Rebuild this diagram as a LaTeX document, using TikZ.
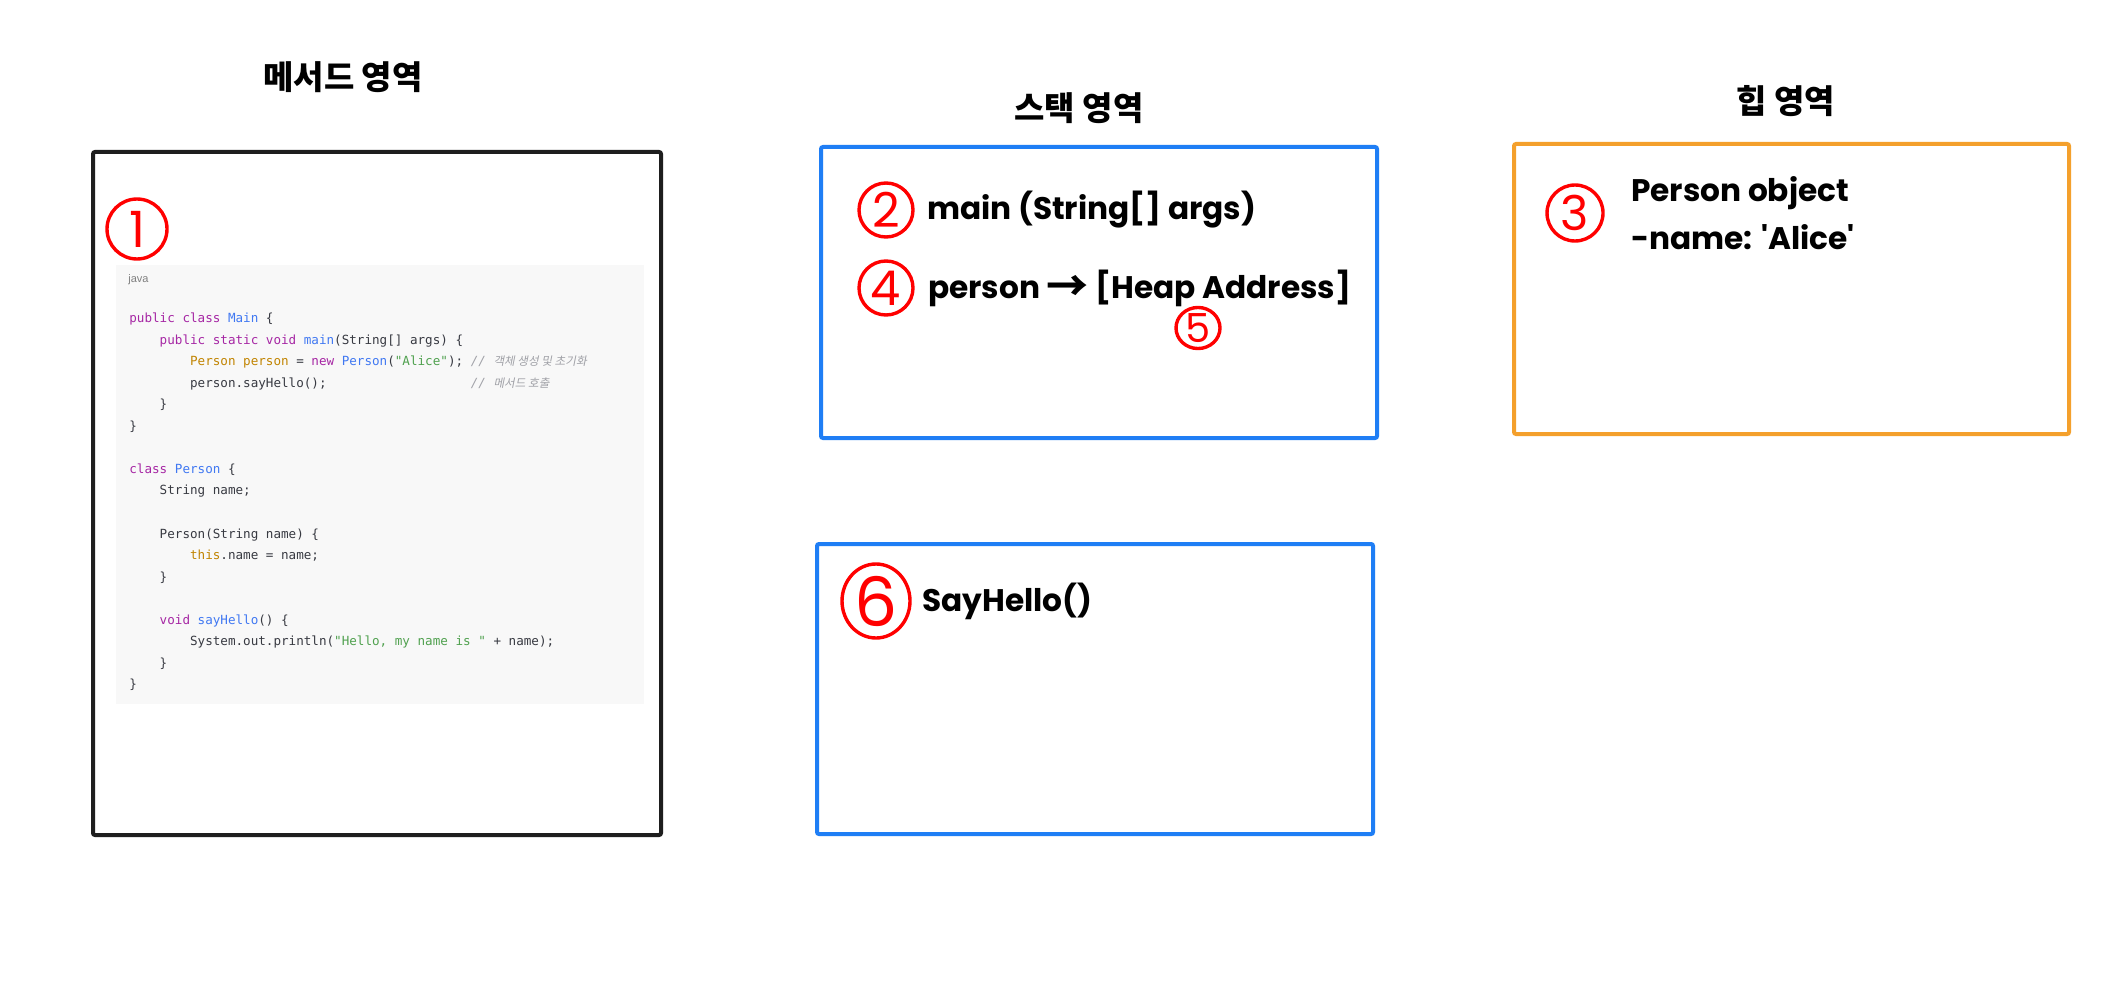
\documentclass[tikz,border=0pt]{standalone}
\usepackage{fontspec}
\setmainfont{Poppins}
\newfontfamily\kr{Noto Sans CJK KR}
\newfontfamily\krslant[FakeSlant=0.2]{Noto Sans CJK KR}
\newfontfamily\codefont{DejaVu Sans Mono}
\newfontfamily\javafont{Liberation Sans}
\usetikzlibrary{positioning,shapes.geometric}
\definecolor{numred}{HTML}{FF0000}
\definecolor{stackblue}{HTML}{1F7EF5}
\definecolor{heaporange}{HTML}{F4A02C}
\definecolor{methodblack}{HTML}{1E1E1E}
\definecolor{codebg}{HTML}{F8F8F8}
\definecolor{codetxt}{HTML}{383A42}
\definecolor{codekw}{HTML}{A626A4}
\definecolor{codefn}{HTML}{4078F2}
\definecolor{codestr}{HTML}{50A14F}
\definecolor{codety}{HTML}{C18401}
\definecolor{codecm}{HTML}{A0A1A7}
\newcommand\ckw[1]{\textcolor{codekw}{#1}}
\newcommand\cfn[1]{\textcolor{codefn}{#1}}
\newcommand\cstr[1]{\textcolor{codestr}{#1}}
\newcommand\cty[1]{\textcolor{codety}{#1}}
\newcommand\ccm[1]{\textcolor{codecm}{\itshape #1}}
\newcommand\krcm[1]{{\krslant\fontsize{5.8}{8}\selectfont #1}}
\newcommand\pad[1]{\hspace*{#1\fontcharwd\font`0}}
\newcommand\numsize[1]{\fontsize{#1}{#1}\selectfont}
\tikzset{
  area/.style={draw=#1,line width=2pt,rounded corners=1pt,inner sep=0pt},
  codepanel/.style={fill=codebg,inner sep=0pt},
  codeline/.style={anchor=base west,inner sep=0pt,text=codetxt,
                   font=\codefont\fontsize{6.3}{8}\selectfont},
  areatitle/.style={font=\kr\bfseries\fontsize{16.5}{20}\selectfont,inner sep=0pt},
  lbl/.style={inner sep=0pt,font=\bfseries\fontsize{15.6}{19}\selectfont},
  numcirc/.style={circle,draw=numred,line width=1.7pt,text=numred,
                  inner sep=0pt,minimum size=#1},
  numoval/.style={ellipse,draw=numred,line width=1.7pt,text=numred,inner sep=0pt},
}
\begin{document}
\begin{tikzpicture}[x=0.5pt,y=-0.5pt]
  \fill[white] (0,0) rectangle (2112,1000);
  \useasboundingbox (0,0) rectangle (2112,1000);

  % method area
  \node[areatitle] (methodtitle) at (343,77) {메서드 영역};
  \node[area=methodblack,minimum width=284pt,minimum height=341.5pt] (methodarea) at (377,493.5) {};
  \node[codepanel,minimum width=264pt,minimum height=219.5pt] (codeblock) at (380,484.5) {};
  \node[anchor=base west,inner sep=0pt,text=black!50,font=\javafont\fontsize{5.5}{6}\selectfont] (javatag) at (128,282) {java};
  \foreach \codetext [count=\i from 0] in {
      {\ckw{public} \ckw{class} \cfn{Main} \{},
      {\pad{4}\ckw{public} \ckw{static} \ckw{void} \cfn{main}(String[] args) \{},
      {\pad{8}\cty{Person} \cty{person} = \ckw{new} \cfn{Person}(\cstr{"Alice"}); \ccm{// \krcm{객체 생성 및 초기화}}},
      {\pad{8}person.sayHello();\pad{19}\ccm{// \krcm{메서드 호출}}},
      {\pad{4}\}},
      {\}},
      {},
      {\ckw{class} \cfn{Person} \{},
      {\pad{4}String name;},
      {},
      {\pad{4}Person(String name) \{},
      {\pad{8}\cty{this}.name = name;},
      {\pad{4}\}},
      {},
      {\pad{4}\ckw{void} \cfn{sayHello}() \{},
      {\pad{8}System.out.println(\cstr{"Hello, my name is "} + name);},
      {\pad{4}\}},
      {\}}}
    \node[codeline] (code\i) at (129,{322.5+21.55*\i}) {\codetext};
  \node[numcirc=30pt,font=\numsize{25}] (num1) at (137,229) {1};

  % stack area
  \node[areatitle] (stacktitle) at (1079,108) {스택 영역};
  \node[area=stackblue,minimum width=278pt,minimum height=145.5pt] (mainframe) at (1099,292.5) {};
  \node[numcirc=27pt,font=\numsize{24}] (num2) at (886,210) {2};
  \node[lbl,right=6pt of num2] (mainlbl) {main (String[] args)};
  \node[numcirc=27pt,font=\numsize{24}] (num4) at (886,288) {4};
  \node[lbl,right=6.5pt of num4] (personlbl)
    {person \raisebox{-1.8pt}{\kr\fontsize{21}{21}\selectfont →} [Heap Address]};
  \node[numoval,minimum width=22pt,minimum height=19pt,font=\numsize{20}] (num5) at (1198,328) {5};
  \node[area=stackblue,minimum width=278pt,minimum height=145pt] (helloframe) at (1095,689) {};
  \node[numoval,minimum width=34pt,minimum height=37pt,font=\numsize{34}] (num6) at (876,601) {6};
  \node[lbl,right=5pt of num6] (hellolbl) {SayHello()};

  % heap area
  \node[areatitle] (heaptitle) at (1786,101) {힙 영역};
  \node[area=heaporange,minimum width=277.5pt,minimum height=145pt] (heaparea) at (1791.5,289) {};
  \node[numcirc=28pt,font=\numsize{24}] (num3) at (1575,213) {3};
  \node[lbl,align=left,right=13pt of num3,font=\bfseries\fontsize{15.6}{24}\selectfont] (personobj)
    {Person object\\-name: \textquotesingle Alice\textquotesingle};
\end{tikzpicture}
\end{document}
